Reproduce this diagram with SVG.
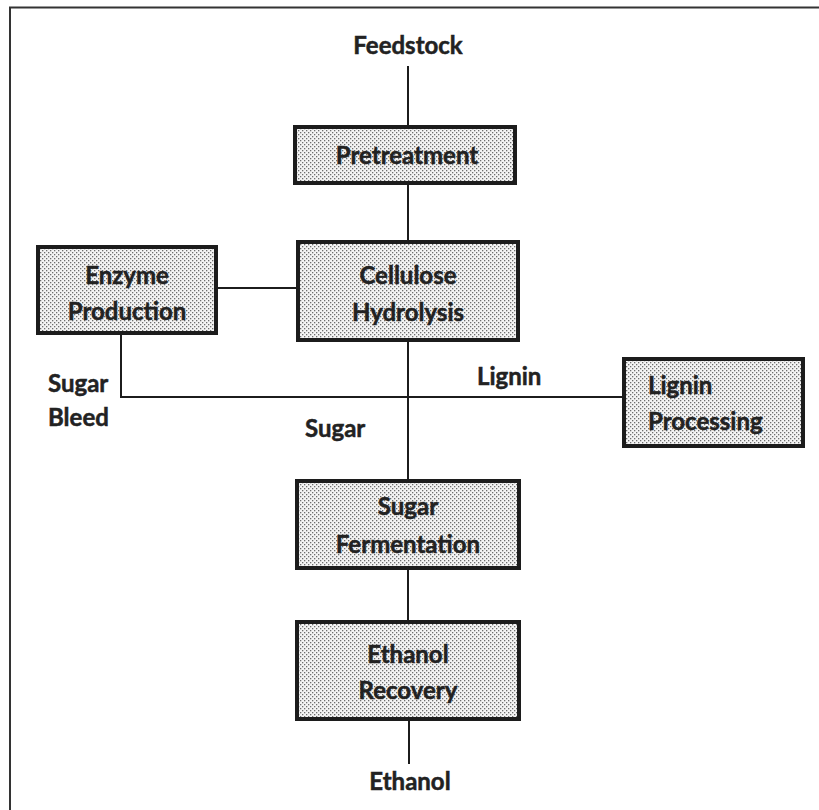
<svg xmlns="http://www.w3.org/2000/svg" width="819" height="810" viewBox="0 0 819 810">
  <defs>
    <pattern id="dots" width="4" height="4" patternUnits="userSpaceOnUse">
      <rect width="4" height="4" fill="#f4f4f4"/>
      <rect x="0" y="0" width="1.3" height="1.3" fill="#6e6e6e"/>
      <rect x="2" y="2" width="1.3" height="1.3" fill="#6e6e6e"/>
    </pattern>
    <style>
      .box { fill: url(#dots); stroke: #1c1c1c; stroke-width: 4; }
      .ln { stroke: #1c1c1c; stroke-width: 2; fill: none; }
      .t { font-family: Lato, "Open Sans", "Liberation Sans", sans-serif; font-weight: 700; font-size: 24px; fill: #222; stroke: #222; stroke-width: 0.5; }
      .c { text-anchor: middle; }
    </style>
  </defs>
  <rect width="819" height="810" fill="#ffffff"/>
  <path d="M10 810 V7.5 H819" fill="none" stroke="#333" stroke-width="2"/>

  <g id="connectors">
    <line class="ln" x1="408" y1="66" x2="408" y2="127"/>
    <line class="ln" x1="408" y1="183" x2="408" y2="242"/>
    <line class="ln" x1="216" y1="288" x2="298" y2="288"/>
    <polyline class="ln" points="121,333 121,397 624,397"/>
    <line class="ln" x1="408" y1="340" x2="408" y2="481"/>
    <line class="ln" x1="408" y1="568" x2="408" y2="622"/>
    <line class="ln" x1="409" y1="719" x2="409" y2="764"/>
  </g>

  <g id="feedstock"><text class="t c" x="408" y="54">Feedstock</text></g>

  <g id="pretreatment">
    <rect class="box" x="295" y="127" width="220" height="56"/>
    <text class="t c" x="407" y="164">Pretreatment</text>
  </g>

  <g id="enzyme-production">
    <rect class="box" x="38" y="247" width="178" height="86"/>
    <text class="t c" x="127" y="284">Enzyme</text>
    <text class="t c" x="127" y="320">Production</text>
  </g>

  <g id="cellulose-hydrolysis">
    <rect class="box" x="298" y="242" width="220" height="98"/>
    <text class="t c" x="408" y="284">Cellulose</text>
    <text class="t c" x="408" y="321">Hydrolysis</text>
  </g>

  <g id="lignin-processing">
    <rect class="box" x="624" y="359" width="179" height="87"/>
    <text class="t" x="648" y="394">Lignin</text>
    <text class="t" x="648" y="430">Processing</text>
  </g>

  <g id="sugar-fermentation">
    <rect class="box" x="297" y="481" width="222" height="87"/>
    <text class="t c" x="408" y="515">Sugar</text>
    <text class="t c" x="408" y="553">Fermentation</text>
  </g>

  <g id="ethanol-recovery">
    <rect class="box" x="297" y="622" width="222" height="97"/>
    <text class="t c" x="408" y="663">Ethanol</text>
    <text class="t c" x="408" y="699">Recovery</text>
  </g>

  <g id="labels">
    <text class="t" x="48" y="392">Sugar</text>
    <text class="t" x="48" y="426">Bleed</text>
    <text class="t" x="477" y="385">Lignin</text>
    <text class="t" x="305" y="437">Sugar</text>
    <text class="t c" x="410" y="790">Ethanol</text>
  </g>
</svg>
